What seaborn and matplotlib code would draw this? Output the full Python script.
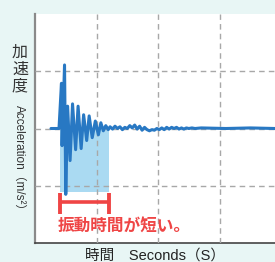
import matplotlib
matplotlib.use("Agg")
import matplotlib.pyplot as plt
import seaborn as sns
import pandas as pd

# acceleration trace (seconds, m/s^2 in chart units)
time_s = [0.26, 0.39, 0.43, 0.44, 0.48, 0.50, 0.53, 0.57, 0.61, 0.66, 0.70,
          0.75, 0.79, 0.84, 0.88, 0.93, 0.98, 1.03, 1.07, 1.11, 1.15, 1.19,
          1.22, 1.26, 1.30, 1.34, 1.38, 1.42, 1.46, 1.50, 1.54, 1.58, 1.62,
          1.66, 1.70, 1.74, 1.78, 1.82, 1.86, 1.90, 1.94, 1.98, 2.02, 2.06,
          2.10, 2.14, 2.18, 2.22, 2.26, 2.30, 2.34, 2.38, 2.42, 2.46, 2.50,
          2.55, 2.60, 2.70, 2.90, 3.10, 3.30, 3.50, 3.70, 3.90]
accel = [0.0, 0.0, 0.79, -0.30, 1.11, -1.15, 0.39, -0.56, 0.43, -0.37, 0.39,
         -0.35, 0.24, -0.21, 0.22, -0.16, 0.13, -0.11, 0.10, -0.04, 0.05, -0.02,
         0.03, -0.01, 0.04, 0.00, 0.03, -0.02, 0.02, 0.00, 0.05, 0.01, 0.06,
         -0.01, 0.04, -0.03, 0.02, -0.02, -0.04, -0.02, -0.03, 0.00, -0.02, 0.01,
         -0.02, 0.02, -0.01, 0.02, 0.00, 0.02, -0.01, 0.01, -0.01, 0.01, 0.00,
         0.01, 0.00, 0.01, 0.005, 0.0, 0.005, 0.01, 0.005, 0.0]

# vibration duration (shaded span)
vib_start = 0.40
vib_end = 1.20
vib_depth = -1.11

sns.set_style("white")
plt.rcParams['font.family'] = ['Liberation Sans', 'Noto Sans CJK JP', 'DejaVu Sans']

bg = '#e8f6f5'
fig = plt.figure(figsize=(2.75, 2.62), dpi=100, facecolor=bg)
ax = fig.add_axes([35 / 275, 19 / 262, 240 / 275, 229 / 262])
ax.set_facecolor('white')

ax.fill_between([vib_start, vib_end], vib_depth, 0, color='#aadaf2', lw=0, zorder=1)

df = pd.DataFrame({'t': time_s, 'a': accel})
sns.lineplot(data=df, x='t', y='a', sort=False, color='#2878c3', lw=2.2,
             ax=ax, zorder=3)

ax.set_xlim(0, 3.9)
ax.set_ylim(-2, 2)
ax.set_xticks([1, 2, 3])
ax.set_yticks([-1, 0, 1])
ax.tick_params(length=0, labelbottom=False, labelleft=False)
ax.grid(True, color='#a8a8a8', lw=1, ls=(0, (4, 3)), zorder=2)
ax.set_axisbelow(False)
for ln in ax.get_xgridlines() + ax.get_ygridlines():
    ln.set_zorder(2)

ax.spines['top'].set_visible(False)
ax.spines['right'].set_visible(False)
ax.spines['left'].set_color('#8a8a8a')
ax.spines['left'].set_linewidth(1.6)
ax.spines['bottom'].set_color('#444444')
ax.spines['bottom'].set_linewidth(1.2)
ax.set_xlabel('')
ax.set_ylabel('')

# red bracket for vibration time
red = '#ef4545'
ax.plot([vib_start, vib_end], [-1.29, -1.29], color=red, lw=2.6,
        solid_capstyle='butt', zorder=4, clip_on=False)
for xb in (vib_start, vib_end):
    ax.plot([xb, xb], [-1.12, -1.49], color=red, lw=2.8,
            solid_capstyle='butt', zorder=4)
ax.text(vib_start - 0.03, -1.69, '振動時間が短い。', color=red, fontsize=12,
        fontweight='bold', family=['Noto Sans CJK JP', 'DejaVu Sans'],
        ha='left', va='center', zorder=5)

# axis labels
fig.text(20 / 275, 1 - 69 / 262, '加\n速\n度', fontsize=11.5, color='#333333',
         ha='center', va='center', linespacing=1.0,
         family=['Noto Sans CJK JP', 'DejaVu Sans'])
fig.text(19 / 275, 1 - 161 / 262, 'Acceleration（m/s²）', fontsize=8.5,
         color='#333333', rotation=270, ha='center', va='center')
fig.text(155 / 275, 1 - 256 / 262, '時間　Seconds（S）', fontsize=10.5,
         color='#222222', ha='center', va='center')

fig.savefig('out.png', dpi=100, facecolor=bg)
